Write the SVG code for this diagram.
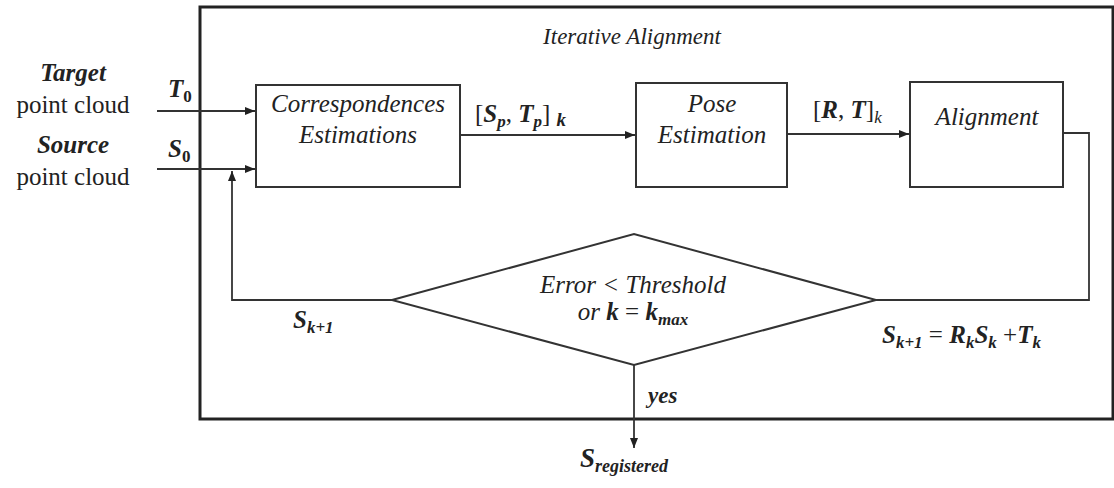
<svg xmlns="http://www.w3.org/2000/svg" width="1114" height="488" viewBox="0 0 1114 488">
<style>
.box{fill:#fff;stroke:#333;stroke-width:2}
.ln{fill:none;stroke:#333;stroke-width:1.8}
text{font-family:"Times New Roman","Liberation Serif",serif;fill:#222}
.it{font-style:italic}
.bi{font-style:italic;font-weight:bold}
</style>
<defs>
<marker id="ah" viewBox="0 0 10 10" refX="10" refY="5" markerWidth="10" markerHeight="10" markerUnits="userSpaceOnUse" orient="auto">
<path d="M0,1 L10,5 L0,9 Z" fill="#222"/>
</marker>
</defs>
<rect x="0" y="0" width="1114" height="488" fill="#fff"/>
<g id="frame">
<rect x="200" y="7" width="913" height="412" fill="none" stroke="#222" stroke-width="3"/>
<text class="it" x="632" y="44" font-size="23" text-anchor="middle">Iterative Alignment</text>
</g>
<g id="inputs">
<text class="bi" x="73" y="81" font-size="25" text-anchor="middle">Target</text>
<text x="73" y="113" font-size="25" text-anchor="middle">point cloud</text>
<text class="bi" x="73" y="153" font-size="25" text-anchor="middle">Source</text>
<text x="73" y="185" font-size="25" text-anchor="middle">point cloud</text>
</g>
<g id="corr">
<rect class="box" x="256" y="85" width="204" height="102"/>
<text class="it" x="358" y="112" font-size="25" text-anchor="middle">Correspondences</text>
<text class="it" x="358" y="143" font-size="25" text-anchor="middle">Estimations</text>
</g>
<g id="pose">
<rect class="box" x="636" y="83" width="151" height="104"/>
<text class="it" x="712" y="112" font-size="25" text-anchor="middle">Pose</text>
<text class="it" x="712" y="143" font-size="25" text-anchor="middle">Estimation</text>
</g>
<g id="align">
<rect class="box" x="910" y="82" width="153" height="105"/>
<text class="it" x="987" y="125" font-size="25" text-anchor="middle">Alignment</text>
</g>
<g id="decision">
<polygon class="box" points="392,300 634,234 876,300 634,365"/>
<text class="it" x="633" y="293" font-size="25" text-anchor="middle">Error &lt; Threshold</text>
<text x="633" y="320" font-size="25" text-anchor="middle"><tspan class="it">or </tspan><tspan class="bi">k</tspan> = <tspan class="bi">k<tspan font-size="17" dy="5">max</tspan></tspan></text>
</g>
<g id="connectors">
<line class="ln" x1="157" y1="111" x2="255" y2="111" marker-end="url(#ah)"/>
<line class="ln" x1="157" y1="169" x2="255" y2="169" marker-end="url(#ah)"/>
<polyline class="ln" points="392,300 232,300 232,171" marker-end="url(#ah)"/>
<line class="ln" x1="460" y1="135" x2="635" y2="135" marker-end="url(#ah)"/>
<line class="ln" x1="787" y1="134" x2="909" y2="134" marker-end="url(#ah)"/>
<polyline class="ln" points="1063,133 1089,133 1089,300 876,300"/>
<line class="ln" x1="634" y1="365" x2="634" y2="448" marker-end="url(#ah)"/>
</g>
<g id="labels">
<text class="bi" x="168" y="97" font-size="25">T<tspan font-size="17" font-style="normal" dy="5">0</tspan></text>
<text class="bi" x="168" y="157" font-size="25">S<tspan font-size="17" font-style="normal" dy="5">0</tspan></text>
<text x="475" y="122" font-size="25">[<tspan class="bi">S</tspan><tspan class="bi" font-size="17" dy="5">p</tspan><tspan dy="-5">, </tspan><tspan class="bi">T</tspan><tspan class="bi" font-size="17" dy="5">p</tspan><tspan dy="-5">] </tspan><tspan class="bi" font-size="19" dy="4">k</tspan></text>
<text x="813" y="118" font-size="25">[<tspan class="bi">R</tspan>, <tspan class="bi">T</tspan>]<tspan class="it" font-size="17" dy="5">k</tspan></text>
<text class="bi" x="293" y="328" font-size="25">S<tspan font-size="17" dy="5">k+1</tspan></text>
<text class="bi" x="882" y="343" font-size="25">S<tspan font-size="17" dy="5">k+1</tspan><tspan dy="-5" font-weight="normal" font-style="normal"> = </tspan>R<tspan font-size="17" dy="5">k</tspan><tspan dy="-5">S</tspan><tspan font-size="17" dy="5">k</tspan><tspan dy="-5" font-weight="normal" font-style="normal"> +</tspan>T<tspan font-size="17" dy="5">k</tspan></text>
<text class="bi" x="648" y="403" font-size="23">yes</text>
<text class="bi" x="580" y="467" font-size="27">S<tspan font-size="18" dy="5">registered</tspan></text>
</g>
</svg>
